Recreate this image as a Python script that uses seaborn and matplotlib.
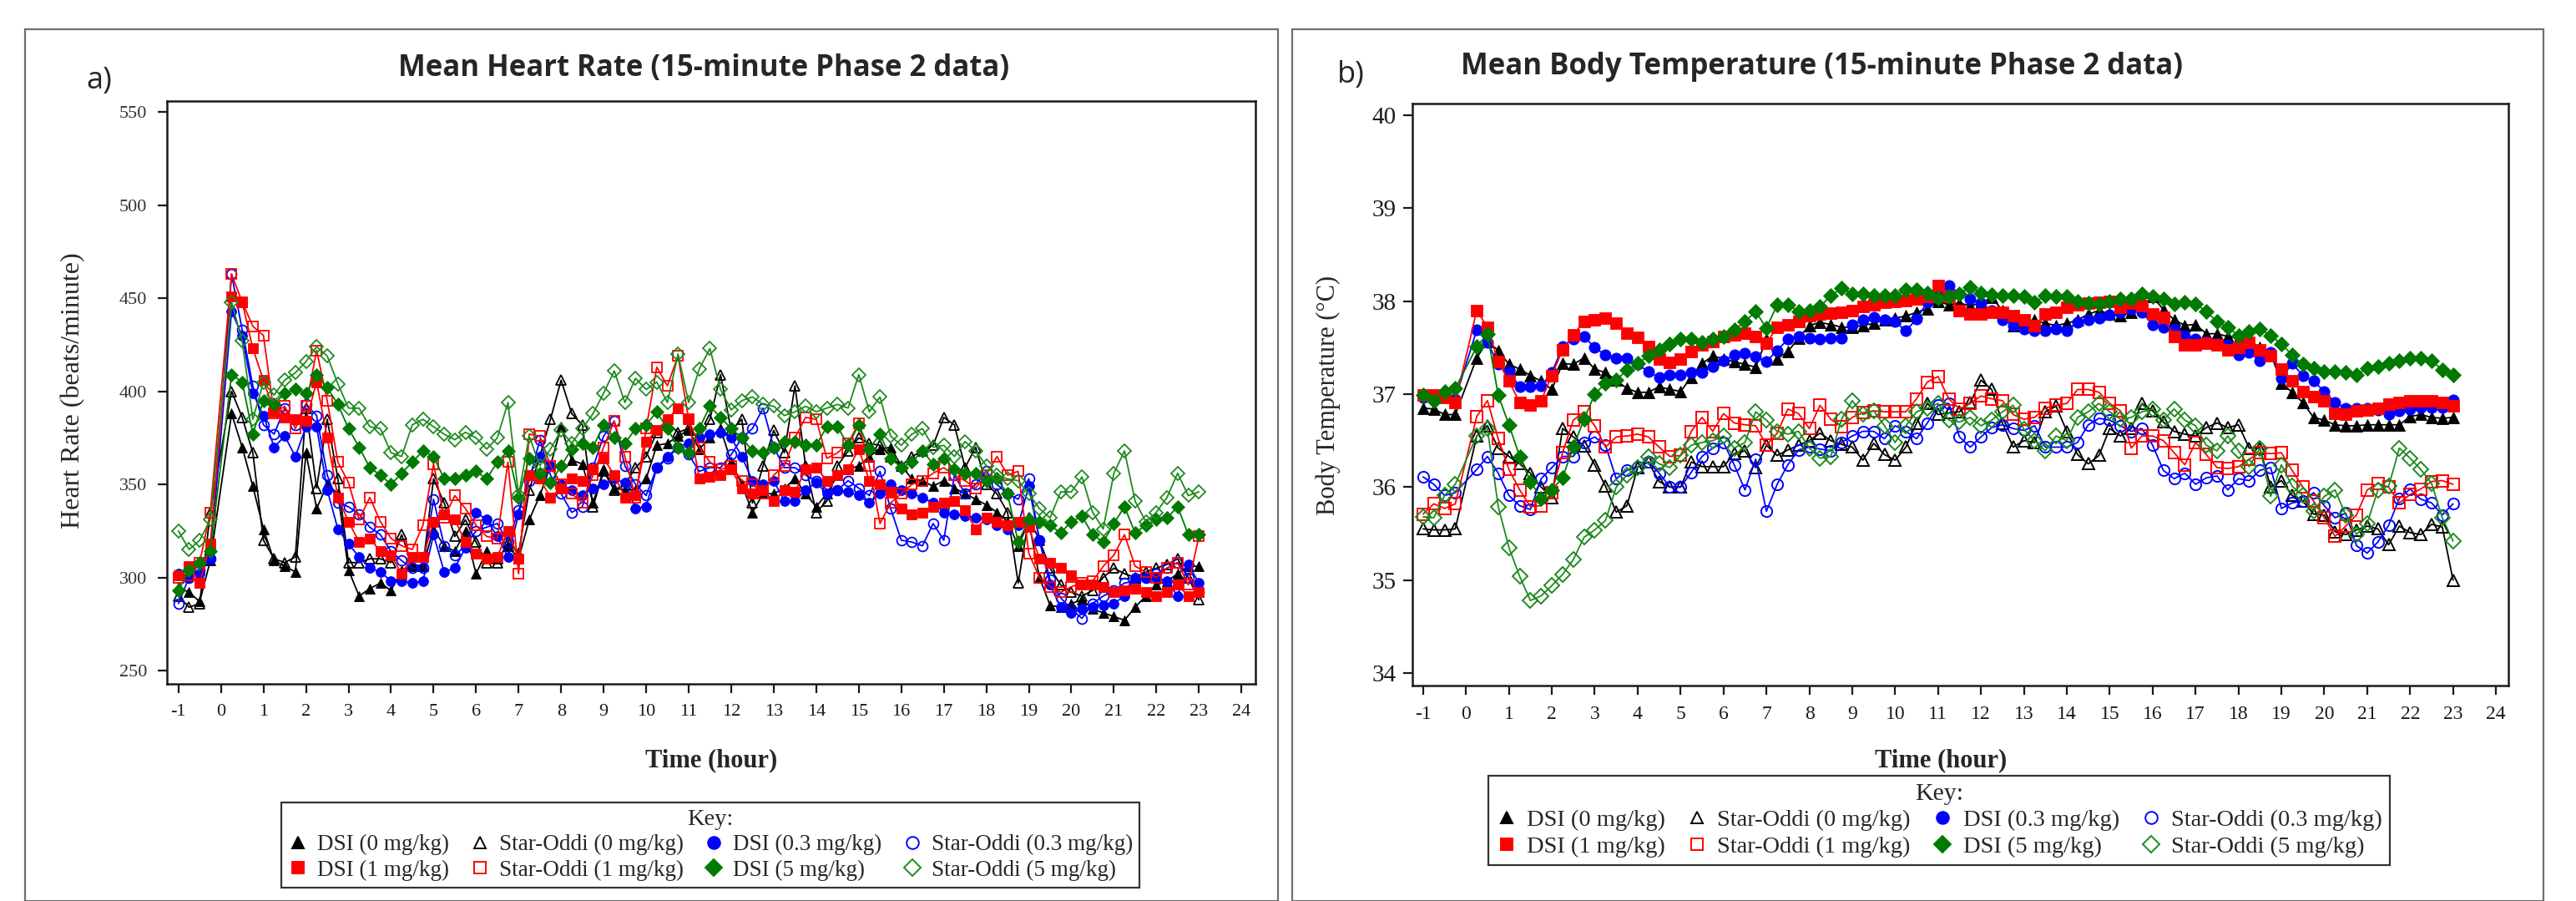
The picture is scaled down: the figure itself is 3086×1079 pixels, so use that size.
import numpy as np
import pandas as pd
import matplotlib
matplotlib.use("Agg")
import matplotlib.pyplot as plt
import seaborn as sns
from matplotlib.lines import Line2D
from matplotlib.patches import Rectangle

sns.set_style("ticks")
plt.rcParams["font.family"] = ["Liberation Serif", "DejaVu Serif"]

# ---------------- data ----------------
hours = [-1.0, -0.75, -0.5, -0.25,
         0.25, 0.5, 0.75,
         1.0, 1.25, 1.5, 1.75, 2.0, 2.25, 2.5, 2.75, 3.0, 3.25, 3.5, 3.75,
         4.0, 4.25, 4.5, 4.75, 5.0, 5.25, 5.5, 5.75, 6.0, 6.25, 6.5, 6.75,
         7.0, 7.25, 7.5, 7.75, 8.0, 8.25, 8.5, 8.75, 9.0, 9.25, 9.5, 9.75,
         10.0, 10.25, 10.5, 10.75, 11.0, 11.25, 11.5, 11.75, 12.0, 12.25, 12.5, 12.75,
         13.0, 13.25, 13.5, 13.75, 14.0, 14.25, 14.5, 14.75, 15.0, 15.25, 15.5, 15.75,
         16.0, 16.25, 16.5, 16.75, 17.0, 17.25, 17.5, 17.75, 18.0, 18.25, 18.5, 18.75,
         19.0, 19.25, 19.5, 19.75, 20.0, 20.25, 20.5, 20.75, 21.0, 21.25, 21.5, 21.75,
         22.0, 22.25, 22.5, 22.75, 23.0]

# Heart rate (beats/minute)
hr_dsi_0 = [295, 292, 287, 309,
            388, 370, 349,
            326, 309, 306, 303, 367, 337, 350, 345, 304, 290, 294, 297,
            293, 304, 306, 306, 326, 317, 314, 325, 302, 314, 310, 317,
            310, 331, 344, 360, 381, 363, 361, 340, 358, 348, 347, 347,
            353, 371, 372, 376, 379, 369, 375, 380, 362, 350, 335, 345,
            345, 348, 353, 345, 338, 345, 355, 358, 360, 365, 369, 370,
            360, 353, 352, 349, 352, 348, 345, 342, 339, 335, 330, 317,
            330, 300, 285, 284, 286, 288, 283, 281, 279, 277, 284, 290,
            296, 298, 302, 306, 306]
hr_so_0 = [290, 284, 286, 335,
           400, 386, 367,
           320, 310, 308, 311, 391, 348, 385, 353, 308, 308, 310, 310,
           308, 323, 307, 306, 353, 340, 322, 331, 319, 308, 308, 319,
           313, 347, 365, 385, 406, 388, 382, 338, 357, 347, 350, 359,
           365, 378, 383, 378, 380, 375, 385, 409, 379, 385, 340, 360,
           379, 367, 403, 360, 335, 341, 360, 368, 375, 372, 371, 365,
           360, 365, 368, 371, 386, 382, 359, 370, 350, 345, 335, 297,
           332, 320, 305, 296, 292, 290, 293, 300, 305, 302, 300, 303,
           305, 307, 310, 300, 288]
hr_dsi_03 = [302, 300, 302, 310,
             443, 430, 399,
             387, 370, 376, 365, 381, 381, 347, 326, 318, 311, 305, 303,
             298, 298, 297, 298, 323, 303, 305, 316, 335, 331, 322, 311,
             334, 355, 365, 360, 350, 347, 344, 348, 350, 353, 351, 337,
             338, 359, 365, 370, 372, 375, 377, 378, 375, 365, 352, 350,
             352, 341, 341, 347, 351, 345, 347, 346, 344, 340, 345, 350,
             347, 345, 343, 340, 335, 334, 333, 332, 331, 328, 326, 328,
             349, 320, 296, 284, 281, 283, 284, 285, 286, 290, 300, 300,
             300, 298, 290, 307, 297]
hr_so_03 = [286, 300, 304, 310,
            463, 433, 403,
            382, 377, 391, 382, 393, 387, 355, 340, 338, 334, 327, 323,
            314, 309, 305, 305, 342, 317, 312, 317, 325, 327, 329, 319,
            336, 352, 374, 355, 345, 335, 338, 359, 376, 384, 360, 350,
            344, 359, 364, 370, 366, 357, 359, 359, 366, 375, 380, 391,
            370, 359, 359, 355, 352, 347, 347, 352, 348, 344, 357, 337,
            320, 319, 317, 329, 320, 355, 345, 350, 357, 350, 345, 342,
            353, 320, 299, 289, 283, 278, 286, 290, 293, 297, 298, 300,
            302, 305, 308, 300, 292]
hr_dsi_1 = [301, 306, 297, 318,
            451, 448, 423,
            406, 389, 386, 385, 384, 405, 375, 343, 330, 319, 321, 314,
            312, 302, 311, 311, 330, 334, 331, 319, 313, 310, 311, 325,
            310, 355, 353, 343, 348, 353, 352, 358, 364, 355, 343, 344,
            373, 379, 385, 391, 385, 353, 354, 355, 358, 348, 345, 347,
            341, 347, 346, 358, 359, 352, 355, 358, 369, 352, 350, 346,
            337, 334, 335, 338, 340, 341, 336, 326, 332, 330, 328, 330,
            327, 310, 308, 305, 301, 296, 296, 295, 292, 293, 294, 292,
            290, 292, 296, 290, 292]
hr_so_1 = [300, 301, 308, 335,
           463, 448, 435,
           430, 388, 392, 380, 392, 422, 395, 362, 351, 331, 343, 330,
           321, 317, 315, 328, 361, 332, 344, 337, 328, 322, 321, 362,
           302, 377, 376, 360, 350, 345, 340, 355, 370, 384, 365, 343,
           380, 413, 403, 419, 385, 370, 362, 358, 360, 352, 350, 345,
           355, 360, 375, 386, 385, 364, 367, 372, 383, 360, 329, 340,
           345, 350, 352, 356, 359, 355, 352, 348, 355, 365, 355, 357,
           313, 300, 295, 292, 295, 297, 298, 306, 312, 323, 306, 303,
           300, 305, 308, 296, 322]
hr_dsi_5 = [293, 304, 308, 314,
            409, 405, 377,
            395, 393, 399, 401, 399, 409, 402, 393, 380, 370, 359, 355,
            350, 356, 362, 368, 365, 353, 353, 355, 357, 353, 362, 368,
            343, 364, 356, 351, 360, 369, 372, 370, 382, 375, 372, 380,
            382, 389, 380, 370, 367, 380, 392, 386, 380, 375, 368, 367,
            370, 373, 373, 371, 371, 381, 381, 371, 382, 369, 377, 364,
            359, 362, 368, 361, 364, 358, 356, 356, 352, 353, 345, 319,
            331, 330, 328, 324, 330, 333, 323, 319, 329, 338, 324, 328,
            331, 332, 338, 323, 323]
hr_so_5 = [325, 315, 320, 331,
           448, 427, 385,
           405, 398, 406, 410, 416, 424, 419, 404, 391, 391, 381, 380,
           367, 365, 382, 385, 381, 377, 374, 378, 375, 369, 375, 394,
           344, 376, 360, 369, 379, 372, 380, 388, 399, 411, 394, 407,
           401, 405, 394, 420, 394, 412, 423, 401, 390, 395, 397, 393,
           392, 387, 389, 392, 389, 391, 393, 391, 409, 389, 397, 376,
           371, 377, 380, 370, 371, 365, 373, 368, 360, 355, 353, 352,
           345, 337, 332, 346, 346, 354, 335, 326, 356, 368, 341, 330,
           335, 343, 356, 344, 346]

# Body temperature (deg C)
bt_dsi_0 = [36.85, 36.84, 36.78, 36.78,
            37.39, 37.57, 37.47,
            37.32, 37.27, 37.20, 37.14, 37.05, 37.33, 37.32, 37.39, 37.27, 37.23, 37.15, 37.06,
            37.02, 37.02, 37.08, 37.05, 37.03, 37.18, 37.33, 37.41, 37.38, 37.35, 37.32, 37.29,
            37.59, 37.38, 37.46, 37.60, 37.74, 37.77, 37.75, 37.72, 37.72, 37.74, 37.76, 37.80,
            37.82, 37.84, 37.88, 37.92, 38.00, 37.96, 37.98, 37.95, 37.98, 38.04, 37.90, 37.74,
            37.78, 37.80, 37.76, 37.74, 37.76, 37.80, 37.86, 37.90, 37.86, 37.84, 37.88, 38.02,
            38.05, 37.91, 37.80, 37.74, 37.75, 37.65, 37.65, 37.62, 37.60, 37.58, 37.50, 37.44,
            37.12, 37.02, 36.91, 36.75, 36.72, 36.67, 36.66, 36.66, 36.67, 36.67, 36.67, 36.67,
            36.76, 36.78, 36.75, 36.74, 36.75]
bt_so_0 = [35.55, 35.54, 35.54, 35.55,
           36.55, 36.66, 36.42,
           36.33, 36.25, 36.15, 36.00, 35.89, 36.63, 36.54, 36.44, 36.24, 36.01, 35.73, 35.80,
           36.21, 36.27, 36.06, 36.00, 36.00, 36.27, 36.22, 36.22, 36.22, 36.36, 36.39, 36.21,
           36.45, 36.34, 36.40, 36.45, 36.50, 36.58, 36.50, 36.46, 36.43, 36.29, 36.47, 36.35,
           36.29, 36.43, 36.69, 36.90, 36.78, 36.80, 36.81, 36.91, 37.15, 37.05, 36.69, 36.43,
           36.50, 36.48, 36.81, 36.87, 36.60, 36.35, 36.25, 36.34, 36.63, 36.55, 36.63, 36.90,
           36.82, 36.70, 36.60, 36.57, 36.55, 36.64, 36.69, 36.64, 36.67, 36.42, 36.42, 36.00,
           36.07, 35.91, 35.85, 35.71, 35.70, 35.52, 35.49, 35.54, 35.58, 35.55, 35.38, 35.58,
           35.51, 35.49, 35.60, 35.57, 35.00]
bt_dsi_03 = [36.96, 36.98, 36.97, 36.95,
             37.69, 37.56, 37.32,
             37.24, 37.08, 37.08, 37.09, 37.23, 37.51, 37.59, 37.62, 37.50, 37.42, 37.39, 37.39,
             37.32, 37.24, 37.18, 37.21, 37.21, 37.23, 37.23, 37.30, 37.36, 37.42, 37.44, 37.40,
             37.35, 37.47, 37.59, 37.62, 37.60, 37.59, 37.60, 37.60, 37.75, 37.80, 37.83, 37.80,
             37.78, 37.68, 37.81, 37.99, 38.05, 38.17, 38.08, 38.02, 37.98, 37.90, 37.80, 37.74,
             37.70, 37.68, 37.68, 37.70, 37.68, 37.77, 37.80, 37.82, 37.85, 37.88, 37.92, 37.88,
             37.75, 37.72, 37.70, 37.63, 37.59, 37.57, 37.55, 37.53, 37.42, 37.45, 37.36, 37.45,
             37.17, 37.33, 37.20, 37.14, 37.03, 36.91, 36.85, 36.85, 36.85, 36.83, 36.78, 36.82,
             36.84, 36.86, 36.86, 36.86, 36.94]
bt_so_03 = [36.11, 36.03, 35.91, 35.94,
            36.19, 36.33, 36.15,
            35.91, 35.80, 35.76, 36.09, 36.21, 36.33, 36.33, 36.48, 36.54, 36.45, 36.09, 36.18,
            36.22, 36.27, 36.15, 36.00, 36.00, 36.16, 36.33, 36.42, 36.48, 36.24, 35.97, 36.30,
            35.74, 36.03, 36.24, 36.40, 36.43, 36.41, 36.39, 36.48, 36.55, 36.60, 36.60, 36.52,
            36.66, 36.60, 36.52, 36.69, 36.88, 36.90, 36.54, 36.43, 36.54, 36.64, 36.67, 36.63,
            36.61, 36.66, 36.43, 36.43, 36.43, 36.48, 36.67, 36.74, 36.72, 36.66, 36.60, 36.63,
            36.45, 36.18, 36.09, 36.15, 36.03, 36.10, 36.12, 35.97, 36.09, 36.07, 36.18, 36.21,
            35.77, 35.83, 35.85, 35.94, 35.80, 35.67, 35.72, 35.37, 35.29, 35.41, 35.59, 35.88,
            35.98, 35.87, 35.83, 35.70, 35.82]
bt_dsi_1 = [36.99, 36.99, 36.96, 36.91,
            37.90, 37.72, 37.35,
            37.14, 36.91, 36.88, 36.93, 37.20, 37.48, 37.64, 37.78, 37.80, 37.82, 37.76, 37.66,
            37.61, 37.51, 37.38, 37.34, 37.38, 37.46, 37.53, 37.57, 37.62, 37.64, 37.66, 37.62,
            37.55, 37.72, 37.75, 37.78, 37.84, 37.86, 37.87, 37.88, 37.90, 37.94, 37.96, 37.99,
            38.00, 38.01, 38.02, 38.05, 38.17, 38.05, 37.90, 37.86, 37.86, 37.88, 37.88, 37.84,
            37.80, 37.74, 37.86, 37.88, 37.93, 37.96, 37.98, 37.99, 38.00, 37.93, 37.98, 37.95,
            37.86, 37.83, 37.62, 37.53, 37.53, 37.55, 37.53, 37.48, 37.50, 37.56, 37.48, 37.41,
            37.27, 37.14, 37.03, 36.97, 36.93, 36.79, 36.78, 36.82, 36.83, 36.85, 36.89, 36.91,
            36.93, 36.93, 36.93, 36.91, 36.87]
bt_so_1 = [35.71, 35.82, 35.77, 35.82,
           36.76, 36.93, 36.52,
           36.19, 35.97, 35.79, 35.80, 35.94, 36.37, 36.72, 36.81, 36.66, 36.43, 36.54, 36.55,
           36.57, 36.54, 36.43, 36.33, 36.34, 36.60, 36.75, 36.60, 36.79, 36.69, 36.67, 36.66,
           36.45, 36.58, 36.84, 36.79, 36.63, 36.88, 36.73, 36.65, 36.75, 36.80, 36.82, 36.81,
           36.81, 36.81, 36.95, 37.13, 37.19, 36.95, 36.84, 36.90, 36.98, 36.95, 36.93, 36.78,
           36.73, 36.75, 36.85, 36.88, 36.90, 37.05, 37.05, 37.02, 36.90, 36.82, 36.42, 36.55,
           36.55, 36.50, 36.37, 36.24, 36.48, 36.35, 36.21, 36.20, 36.22, 36.30, 36.37, 36.36,
           36.37, 36.18, 36.00, 35.85, 35.67, 35.47, 35.58, 35.70, 35.97, 36.04, 36.00, 35.83,
           35.92, 35.98, 36.06, 36.07, 36.03]
bt_dsi_5 = [36.99, 36.93, 37.03, 37.06,
            37.51, 37.65, 36.99,
            36.67, 36.33, 36.06, 35.88, 35.97, 36.10, 36.43, 36.73, 37.00, 37.12, 37.15, 37.26,
            37.33, 37.41, 37.48, 37.54, 37.59, 37.59, 37.56, 37.59, 37.62, 37.69, 37.78, 37.89,
            37.71, 37.96, 37.96, 37.89, 37.90, 37.94, 38.06, 38.14, 38.08, 38.08, 38.06, 38.06,
            38.06, 38.12, 38.12, 38.09, 38.03, 38.05, 38.08, 38.15, 38.09, 38.07, 38.06, 38.06,
            38.05, 37.99, 38.06, 38.05, 38.05, 38.00, 37.98, 37.97, 38.00, 38.02, 38.02, 38.08,
            38.05, 38.02, 37.97, 37.99, 37.97, 37.89, 37.78, 37.72, 37.63, 37.67, 37.70, 37.63,
            37.54, 37.42, 37.32, 37.28, 37.24, 37.24, 37.23, 37.21, 37.28, 37.30, 37.33, 37.36,
            37.39, 37.39, 37.36, 37.26, 37.21]
bt_so_5 = [35.68, 35.67, 35.91, 36.03,
           36.55, 36.63, 35.79,
           35.35, 35.04, 34.78, 34.83, 34.94, 35.06, 35.22, 35.46, 35.54, 35.64, 36.00, 36.13,
           36.21, 36.33, 36.25, 36.21, 36.34, 36.45, 36.48, 36.50, 36.55, 36.42, 36.48, 36.81,
           36.72, 36.60, 36.57, 36.60, 36.42, 36.31, 36.33, 36.73, 36.93, 36.78, 36.82, 36.66,
           36.48, 36.66, 36.81, 36.85, 36.90, 36.72, 36.70, 36.75, 36.66, 36.72, 36.81, 36.88,
           36.62, 36.50, 36.39, 36.55, 36.50, 36.75, 36.81, 36.90, 36.81, 36.73, 36.75, 36.81,
           36.84, 36.72, 36.84, 36.72, 36.66, 36.45, 36.39, 36.55, 36.39, 36.22, 36.42, 35.90,
           36.24, 36.01, 35.91, 35.74, 35.90, 35.97, 35.70, 35.49, 35.61, 35.97, 36.01, 36.42,
           36.31, 36.19, 36.04, 35.67, 35.42]

series_labels = ["DSI (0 mg/kg)", "Star-Oddi (0 mg/kg)", "DSI (0.3 mg/kg)", "Star-Oddi (0.3 mg/kg)",
                 "DSI (1 mg/kg)", "Star-Oddi (1 mg/kg)", "DSI (5 mg/kg)", "Star-Oddi (5 mg/kg)"]
hr_series = [hr_dsi_0, hr_so_0, hr_dsi_03, hr_so_03, hr_dsi_1, hr_so_1, hr_dsi_5, hr_so_5]
bt_series = [bt_dsi_0, bt_so_0, bt_dsi_03, bt_so_03, bt_dsi_1, bt_so_1, bt_dsi_5, bt_so_5]

# style per series: (marker, color, filled)
styles = [("^", "black", True), ("^", "black", False),
          ("o", "#0000ff", True), ("o", "#0000ff", False),
          ("s", "#ff0000", True), ("s", "#ff0000", False),
          ("D", "#007a00", True), ("D", "#1f8a1f", False)]

# ---------------- figure ----------------
W, H = 3086, 1079
fig = plt.figure(figsize=(W / 100, H / 100), dpi=100)

def fx(px):
    return px / W

def fy(py):
    return 1 - py / H

# light grey panel frames
for x0, x1 in [(30, 1531), (1548, 3047)]:
    fig.patches.append(Rectangle((fx(x0), fy(1079)), fx(x1) - fx(x0), fy(35) - fy(1079),
                                 transform=fig.transFigure, fill=False,
                                 edgecolor="#6e6e6e", linewidth=1.6, zorder=0))

axA = fig.add_axes([fx(200), fy(819), fx(1504) - fx(200), fy(121) - fy(819)])
axB = fig.add_axes([fx(1692), fy(821), fx(3005) - fx(1692), fy(124) - fy(821)])


def draw(ax, series, ms, mew):
    for lab, vals, (m, c, filled) in zip(series_labels, series, styles):
        df = pd.DataFrame({"time": hours, "value": vals})
        sns.lineplot(data=df, x="time", y="value", ax=ax, color=c, marker=m,
                     markersize=ms, markerfacecolor=(c if filled else "none"),
                     markeredgecolor=c, markeredgewidth=(0.6 if filled else mew),
                     linewidth=1.3, errorbar=None, legend=False, sort=False)
    ax.set_xlabel("")
    ax.set_ylabel("")
    ax.set_xticks(list(range(-1, 25)))
    ax.set_xticklabels([str(v) for v in range(-1, 25)])
    for sp in ax.spines.values():
        sp.set_visible(True)
        sp.set_linewidth(1.8)
        sp.set_color("#1a1a1a")
    ax.tick_params(direction="out", length=8, width=1.6, colors="#1a1a1a")


draw(axA, hr_series, 8.5, 1.3)
axA.set_xlim(-1.27, 24.33)
axA.set_ylim(242.8, 556)
axA.set_yticks([250, 300, 350, 400, 450, 500, 550])
axA.tick_params(labelsize=16, pad=9)
for t in axA.get_yticklabels():
    t.set_color("#333333")

draw(axB, bt_series, 9.5, 1.4)
axB.set_xlim(-1.25, 24.29)
axB.set_ylim(33.865, 40.126)
axB.set_yticks([34, 35, 36, 37, 38, 39, 40])
axB.tick_params(axis="y", labelsize=21, pad=6)
axB.tick_params(axis="x", labelsize=17, pad=9)

# axis labels and titles
fig.text(fx(88), fy(468), "Heart Rate (beats/minute)", rotation=90, ha="center", va="center", fontsize=23)
fig.text(fx(1591), fy(473), "Body Temperature (\u00b0C)", rotation=90, ha="center", va="center", fontsize=22)
fig.text(fx(852), fy(911), "Time (hour)", ha="center", va="center", fontsize=22, fontweight="bold")
fig.text(fx(2325), fy(911), "Time (hour)", ha="center", va="center", fontsize=22, fontweight="bold")

tfont = ["Open Sans", "DejaVu Sans"]
fig.text(fx(843), fy(82), "Mean Heart Rate (15-minute Phase 2 data)", ha="center", va="center",
         fontsize=25, fontweight="bold", family=tfont)
fig.text(fx(2183), fy(80), "Mean Body Temperature (15-minute Phase 2 data)", ha="center", va="center",
         fontsize=25, fontweight="bold", family=tfont)
fig.text(fx(119), fy(97), "a)", ha="center", va="center", fontsize=26, family=tfont)
fig.text(fx(1618), fy(90), "b)", ha="center", va="center", fontsize=26, family=tfont)

# legends ("Key:")
order = [0, 4, 1, 5, 2, 6, 3, 7]
handles = []
labels = []
for i in order:
    m, c, filled = styles[i]
    handles.append(Line2D([], [], linestyle="none", marker=m, markersize=10.5,
                          markerfacecolor=(c if filled else "none"), markeredgecolor=c,
                          markeredgewidth=1.4))
    labels.append(series_labels[i])

for cx, top, fs in [(851, 947, 19.5), (2323, 915, 20.5)]:
    leg = fig.legend(handles, labels, ncol=4, loc="upper center",
                     bbox_to_anchor=(fx(cx), fy(top)), title="Key:",
                     fontsize=fs, title_fontsize=fs + 1, frameon=True, fancybox=False,
                     edgecolor="black", handlelength=0.9, handletextpad=0.4,
                     columnspacing=0.9, borderpad=0.3, labelspacing=0.2)
    leg.get_frame().set_linewidth(1.6)

fig.savefig("out.png", dpi=100)
